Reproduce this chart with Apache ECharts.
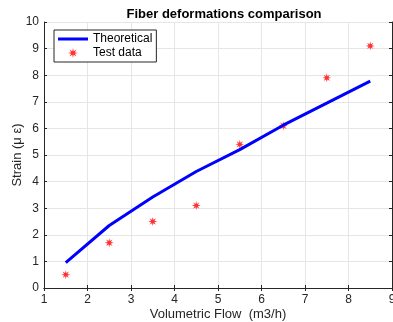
<!DOCTYPE html>
<html>
<head>
<meta charset="utf-8">
<script src="https://cdn.jsdelivr.net/npm/echarts@6/dist/echarts.min.js"></script>
<style>
  html, body { margin: 0; padding: 0; background: #fff; }
  #chart { width: 393px; height: 322px; }
</style>
</head>
<body>
<div id="chart"></div>
<script>
// caudal volumetrico (m3/h)
const flow = [1.5, 2.5, 3.5, 4.5, 5.5, 6.5, 7.5, 8.5];
const theoretical = [0.95, 2.35, 3.42, 4.38, 5.2, 6.12, 6.95, 7.78];
const testData = [0.5, 1.7, 2.5, 3.1, 5.4, 6.1, 7.9, 9.1];

// asterisco de 8 puntas como simbolo
const star = (() => {
  let d = "";
  for (let i = 0; i < 16; i++) {
    const r = i % 2 === 0 ? 10 : 4;
    const a = (Math.PI / 8) * i - Math.PI / 2;
    d += (i === 0 ? "M" : "L") + (r * Math.cos(a)).toFixed(2) + "," + (r * Math.sin(a)).toFixed(2);
  }
  return "path://" + d + "Z";
})();

// icono de linea gruesa para la leyenda (las esquinas diminutas fijan la caja 30x10)
const lineIcon = "path://M0,0L0.01,0L0,0.01Z M0,3.5L30,3.5L30,6.5L0,6.5Z M30,10L29.99,10L30,9.99Z";

const font = "Liberation Sans, Arial, sans-serif";
const axisText = { color: "#262626", fontSize: 12, fontFamily: font };
const gridLine = { show: true, lineStyle: { color: "#e6e6e6", width: 1 } };
const axisLine = { show: true, lineStyle: { color: "#262626", width: 1 } };
const tick = { show: true, inside: true, length: 3, lineStyle: { color: "#262626" } };

const myChart = echarts.init(document.getElementById("chart"));
myChart.setOption({
  animation: false,
  title: {
    text: "Fiber deformations comparison",
    left: 219,
    textAlign: "center",
    top: 3,
    textStyle: { fontSize: 13, fontWeight: "bold", color: "#000", fontFamily: font },
  },
  grid: { left: 44, right: 1, top: 22, bottom: 34, outerBoundsMode: "none", containLabel: false },
  legend: {
    left: 54,
    top: 30,
    orient: "vertical",
    itemGap: 2,
    padding: [3, 4, 3, 4],
    borderColor: "#262626",
    borderWidth: 1,
    backgroundColor: "#fff",
    textStyle: { fontSize: 12, color: "#000", fontFamily: font },
    itemWidth: 30,
    itemHeight: 10,
    data: [
      { name: "Theoretical", icon: lineIcon },
      { name: "Test data" },
    ],
  },
  xAxis: [
    {
      type: "value",
      min: 1,
      max: 9,
      interval: 1,
      name: "Volumetric Flow  (m3/h)",
      nameLocation: "middle",
      nameGap: 20,
      nameMoveOverlap: false,
      nameTextStyle: { fontSize: 13, color: "#262626", fontFamily: font },
      axisLine: axisLine,
      axisTick: tick,
      axisLabel: { ...axisText, margin: 6 },
      splitLine: gridLine,
    },
    {
      type: "value",
      position: "top",
      min: 1,
      max: 9,
      interval: 1,
      axisLine: axisLine,
      axisTick: tick,
      axisLabel: { show: false },
      splitLine: { show: false },
    },
  ],
  yAxis: [
    {
      type: "value",
      min: 0,
      max: 10,
      interval: 1,
      name: "Strain (\u03bc \u03b5)",
      nameLocation: "middle",
      nameGap: 20,
      nameMoveOverlap: false,
      nameTextStyle: { fontSize: 13, color: "#262626", fontFamily: font },
      axisLine: axisLine,
      axisTick: tick,
      axisLabel: { ...axisText, margin: 5 },
      splitLine: gridLine,
    },
    {
      type: "value",
      position: "right",
      min: 0,
      max: 10,
      interval: 1,
      axisLine: axisLine,
      axisTick: tick,
      axisLabel: { show: false },
      splitLine: { show: false },
    },
  ],
  series: [
    {
      name: "Theoretical",
      type: "line",
      data: flow.map((x, i) => [x, theoretical[i]]),
      showSymbol: false,
      symbol: "none",
      lineStyle: { color: "#0000ff", width: 3 },
      itemStyle: { color: "#0000ff" },
    },
    {
      name: "Test data",
      type: "scatter",
      data: flow.map((x, i) => [x, testData[i]]),
      symbol: star,
      symbolSize: 9,
      itemStyle: { color: "#ff0000" },
    },
  ],
});
window.addEventListener("resize", myChart.resize);
</script>
</body>
</html>
